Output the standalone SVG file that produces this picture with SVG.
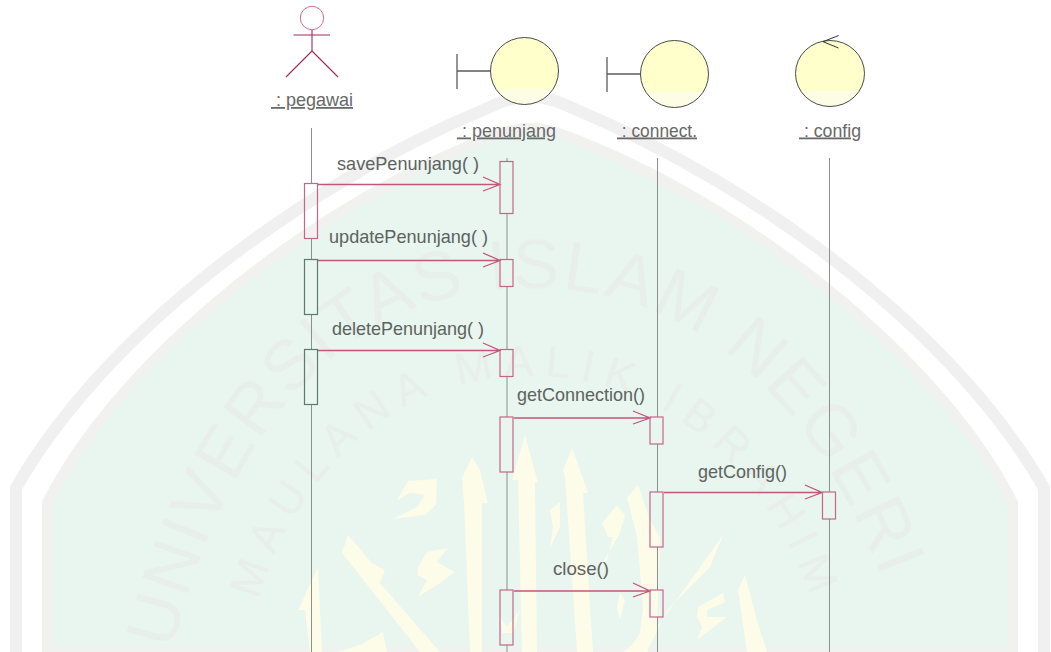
<svg xmlns="http://www.w3.org/2000/svg" width="1051" height="652" viewBox="0 0 1051 652">
<style>
text{font-family:"Liberation Sans",Arial,sans-serif}
.lbl{font-size:17.800px;fill:#686868;text-decoration:underline}
.msg{font-size:17.800px;fill:#5c6360}
.wm{fill:#e8efeb;font-size:70px}
.wm2{fill:#e8efeb;font-size:44px}
.act{fill:none;stroke:#c4668a;stroke-width:1.2}
.act2{fill:none;stroke:#5d7a70;stroke-width:1.2}
.life{fill:none;stroke:#8b908d;stroke-width:1}
.msgl{fill:none;stroke:#c4557c;stroke-width:1.300}
.obj{fill:url(#obj);stroke:#4a4a4a;stroke-width:1}
.bar{fill:none;stroke:#5c5c5c;stroke-width:1.3}
.cal{fill:#fcfce8}
</style>
<defs><linearGradient id="obj" x1="0" y1="0" x2="0" y2="1"><stop offset="0.77" stop-color="#ffffcb"/><stop offset="0.77" stop-color="#fdfde6"/></linearGradient>
<path id="a1" d="M172 650 C205 520 290 288 530 288 C770 288 870 520 905 650"/>
<path id="a2" d="M258 600 C290 490 380 376 532 376 C680 376 775 490 812 600"/>
</defs>
<rect width="1051" height="652" fill="#fff"/>
<g id="watermark">
<path d="M16 652 V488 C100 340 290 190 490 107 C505 100 515 97 530 97 C545 97 555 100 570 107 C770 190 960 340 1044 488 V652" fill="none" stroke="#f0f0f0" stroke-width="12"/>
<path d="M47 652 V503 C110 375 290 215 490 137 C505 131 515 128 530 128 C545 128 555 131 570 137 C770 215 950 375 1013 503 V652 Z" fill="#e9f5ef" stroke="#f1f2f0" stroke-width="10"/>
<text class="wm"><textPath href="#a1" textLength="1040" lengthAdjust="spacing">UNIVERSITAS ISLAM NEGERI</textPath></text>
<text class="wm2"><textPath href="#a2" textLength="760" lengthAdjust="spacing">MAULANA MALIK IBRAHIM</textPath></text>
<g id="calligraphy">
<path class="cal" d="M472 457L462 478L464 503L470 652H482L482 503H488L480 470Z"/>
<path class="cal" d="M397 500L408 481L437 479L436 505L425 515L393 519L417 507L425 495L410 493Z"/>
<path class="cal" d="M418 567L427 552L448 548L437 562L455 572L440 583L418 597L427 580L417 575Z"/>
<path class="cal" d="M348 535L342 553L420 652H440L380 583L385 570L372 563Z"/>
<path class="cal" d="M318 567L298 610L305 610L310 652H322Z"/>
<path class="cal" d="M337 652L360 645L383 632L387 652Z"/>
<path class="cal" d="M525 435L512 480L518 480L522 652H537L535 482L538 483Z"/>
<path class="cal" d="M572 448L563 470L565 477L577 652H593L583 493H588L580 470Z"/>
<path class="cal" d="M560 502L550 510L553 527L550 548L560 527Z"/>
<path class="cal" d="M638 485L627 498L637 537L643 607L640 633L627 652H647L657 627L660 537L650 520Z"/>
<path class="cal" d="M617 505L602 523L608 537L613 537L607 560L597 573L620 533L625 515Z"/>
<path class="cal" d="M723 535L710 567L667 610L647 652H623L657 627L693 577Z"/>
<path class="cal" d="M698 607L723 593L725 602L707 610L707 617L727 617L710 630L697 640L702 627L697 617Z"/>
<path class="cal" d="M745 575L738 590L747 652H767L757 620Z"/>
<path class="cal" d="M620 593L625 600L620 620L617 607Z"/>
<path class="cal" d="M500 617L507 627L520 610L513 633L502 633Z"/>
</g>
</g>
<g id="connectors">
<path class="life" d="M311.500 128V183M311.500 238V259M311.500 314V349M311.500 404V652"/>
<path class="life" d="M507 158V161M507 213V259M507 286V349M507 376V417M507 472V590M507 645V652"/>
<path class="life" d="M657.500 158V417M657.500 444V492M657.500 547V590M657.500 617V652"/>
<path class="life" d="M829.500 158V492M829.500 519V652"/>
<path class="msgl" d="M318 184.500H499M483 177L500 184.500L483 191"/>
<path class="msgl" d="M318 260.500H499M483 253L500 260.500L483 267"/>
<path class="msgl" d="M318 350.500H499M483 343L500 350.500L483 357"/>
<path class="msgl" d="M514 418H649M633 411L650 418L633 424"/>
<path class="msgl" d="M664 492.500H821M805 485L822 492.500L805 499"/>
<path class="msgl" d="M514 591H649M633 583L650 591L633 597"/>
<text class="msg" x="337" y="170" textLength="142" lengthAdjust="spacingAndGlyphs">savePenunjang( )</text>
<text class="msg" x="329" y="243" textLength="159" lengthAdjust="spacingAndGlyphs">updatePenunjang( )</text>
<text class="msg" x="332" y="335" textLength="152" lengthAdjust="spacingAndGlyphs">deletePenunjang( )</text>
<text class="msg" x="517" y="401" textLength="128" lengthAdjust="spacingAndGlyphs">getConnection()</text>
<text class="msg" x="698" y="478" textLength="89" lengthAdjust="spacingAndGlyphs">getConfig()</text>
<text class="msg" x="553" y="575" textLength="56" lengthAdjust="spacingAndGlyphs">close()</text>
</g>
<g id="pegawai">
<circle cx="312" cy="18" r="11.700" fill="none" stroke="#c8708c" stroke-width="1"/>
<path d="M312 30V51M293.500 35H330M312 51L286 77M312 51L338 77" fill="none" stroke="#a82a55" stroke-width="1.100"/>
<text class="lbl" x="271" y="106" xml:space="preserve" textLength="82" lengthAdjust="spacingAndGlyphs"> : pegawai</text>
<rect class="act" x="304.500" y="183.500" width="13" height="55"/>
<rect class="act2" x="304.500" y="259.500" width="13" height="55"/>
<rect class="act2" x="304.500" y="349.500" width="13" height="55"/>
</g>
<g id="penunjang">
<path class="bar" d="M457 54V89M457 71H490"/>
<ellipse class="obj" cx="524.500" cy="71" rx="34" ry="33.500"/>
<text class="lbl" x="457" y="136.500" xml:space="preserve" textLength="99" lengthAdjust="spacingAndGlyphs"> : penunjang</text>
<rect class="act" x="500" y="161.500" width="13" height="52"/>
<rect class="act" x="500" y="259.500" width="13" height="27"/>
<rect class="act" x="500" y="349.500" width="13" height="27"/>
<rect class="act" x="500" y="417" width="13" height="55"/>
<rect class="act" x="500" y="590" width="13" height="55"/>
</g>
<g id="connect">
<path class="bar" d="M607 57V92M607 74H641"/>
<ellipse class="obj" cx="674.500" cy="74" rx="34" ry="33.500"/>
<text class="lbl" x="617" y="136.500" xml:space="preserve" textLength="80" lengthAdjust="spacingAndGlyphs"> : connect.</text>
<rect class="act" x="650" y="417" width="13" height="27"/>
<rect class="act" x="650" y="492" width="13" height="55"/>
<rect class="act" x="650" y="590" width="13" height="27"/>
</g>
<g id="config">
<ellipse class="obj" cx="830" cy="73.500" rx="34.500" ry="33"/>
<path d="M838.500 35.500L823 41.700L838.500 48" fill="none" stroke="#333" stroke-width="1"/>
<text class="lbl" x="799" y="136.500" xml:space="preserve" textLength="62" lengthAdjust="spacingAndGlyphs"> : config</text>
<rect class="act" x="822.500" y="492" width="13" height="27"/>
</g>
</svg>
